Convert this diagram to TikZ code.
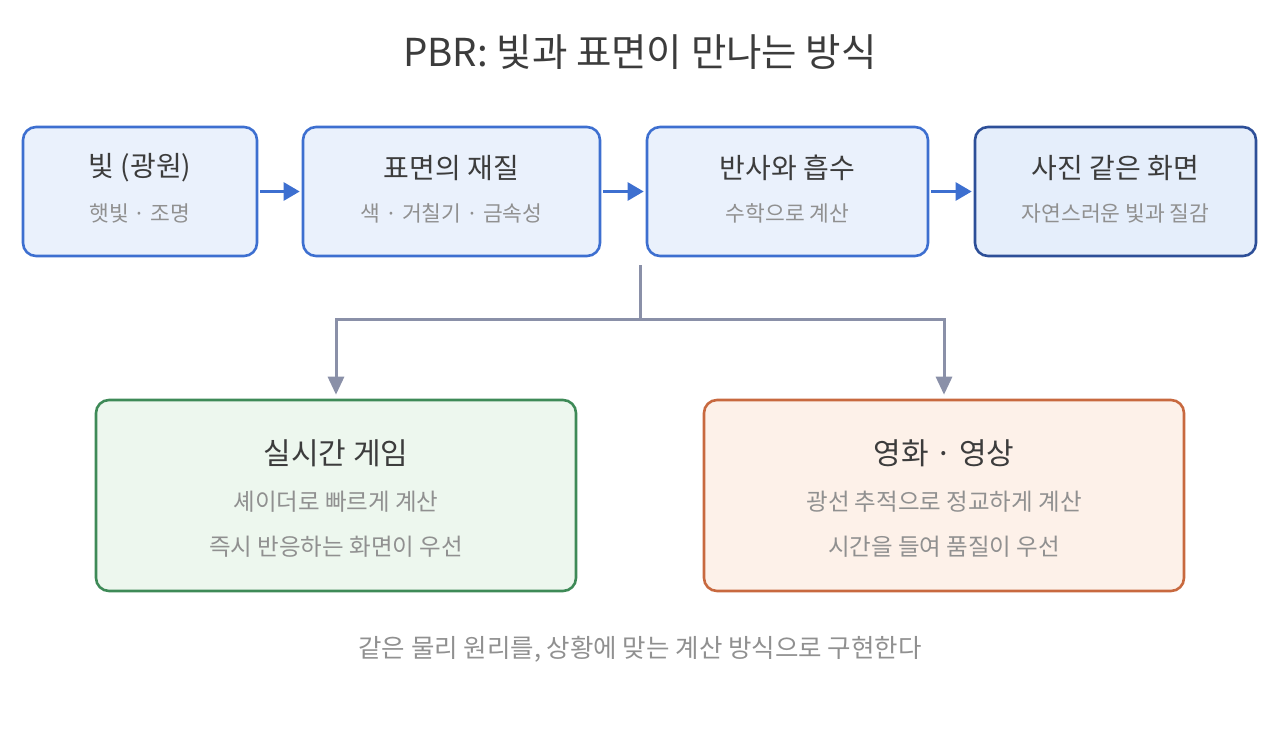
\documentclass[tikz,border=0pt]{standalone}
\usepackage{fontspec}
\setmainfont{Noto Sans CJK KR}
\usetikzlibrary{arrows.meta}

\definecolor{flowblue}{HTML}{3D6FD0}
\definecolor{bluefill}{HTML}{EAF1FC}
\definecolor{deepblue}{HTML}{2D4F98}
\definecolor{deepfill}{HTML}{E5EEFB}
\definecolor{gamegreen}{HTML}{3E8A57}
\definecolor{greenfill}{HTML}{EDF7EE}
\definecolor{filmorange}{HTML}{C8693F}
\definecolor{orangefill}{HTML}{FDF1E9}
\definecolor{forkgrey}{HTML}{8A90A8}
\definecolor{headtext}{HTML}{3C3C3C}
\definecolor{subtext}{HTML}{909090}

\tikzstyle{box} = [draw, rounded corners=13pt, line width=2.6pt, inner sep=0pt]
\tikzstyle{topbox} = [box, minimum height=129pt]
\tikzstyle{lowbox} = [box, minimum width=480pt, minimum height=191pt]
\tikzstyle{head} = [inner sep=0pt, text=headtext, font=\fontsize{28}{32}\selectfont]
\tikzstyle{sub} = [inner sep=0pt, text=subtext, font=\fontsize{21.5}{25}\selectfont]
\tikzstyle{lowhead} = [inner sep=0pt, text=headtext, font=\fontsize{30}{34}\selectfont]
\tikzstyle{lowsub} = [inner sep=0pt, text=subtext, font=\fontsize{23.5}{27}\selectfont]
\tikzstyle{flow} = [draw=flowblue, line width=2.6pt, -{Triangle[length=16pt,width=18pt]}, shorten <=2pt, shorten >=2pt]
\tikzstyle{branch} = [draw=forkgrey, line width=3pt]

\begin{document}
\begin{tikzpicture}[x=1pt,y=-1pt]
			\useasboundingbox (0,0) rectangle (1280,736);
			\node[inner sep=0pt, text=headtext, font=\fontsize{38.5}{44}\selectfont] (title) at (640,52) {PBR: 빛과 표면이 만나는 방식};
			% top row
			\node[topbox, draw=flowblue, fill=bluefill, minimum width=234pt] (light) at (140,191.5) {};
			\node[topbox, draw=flowblue, fill=bluefill, minimum width=297pt] (surface) at (451.5,191.5) {};
			\node[topbox, draw=flowblue, fill=bluefill, minimum width=281pt] (reflect) at (787.5,191.5) {};
			\node[topbox, draw=deepblue, fill=deepfill, minimum width=281pt] (photo) at (1115.5,191.5) {};
			\node[head] (lighthead) at (140,168) {빛 (광원)};
			\node[sub] (lightsub) at (140,213) {햇빛 · 조명};
			\node[head] (surfacehead) at (451.5,168) {표면의 재질};
			\node[sub] (surfacesub) at (451.5,213) {색 · 거칠기 · 금속성};
			\node[head] (reflecthead) at (787.5,168) {반사와 흡수};
			\node[sub] (reflectsub) at (787.5,213) {수학으로 계산};
			\node[head] (photohead) at (1115.5,168) {사진 같은 화면};
			\node[sub] (photosub) at (1115.5,213) {자연스러운 빛과 질감};
			\draw[flow] (light) -- (surface);
			\draw[flow] (surface) -- (reflect);
			\draw[flow] (reflect) -- (photo);
			% bottom row
			\node[lowbox, draw=gamegreen, fill=greenfill] (game) at (336,495.5) {};
			\node[lowbox, draw=filmorange, fill=orangefill] (film) at (944,495.5) {};
			\node[lowhead] (gamehead) at (336,453) {실시간 게임};
			\node[lowsub] (gameone) at (336,502) {셰이더로 빠르게 계산};
			\node[lowsub] (gametwo) at (336,547) {즉시 반응하는 화면이 우선};
			\node[lowhead] (filmhead) at (944,453) {영화 · 영상};
			\node[lowsub] (filmone) at (944,502) {광선 추적으로 정교하게 계산};
			\node[lowsub] (filmtwo) at (944,547) {시간을 들여 품질이 우선};
			\coordinate (fork) at (640,265);
			\coordinate (join) at (640,319);
			\draw[branch] (fork) -- (join);
			\draw[branch, -{Triangle[length=18pt,width=16pt]}, shorten >=4pt] (join) -| (game.north);
			\draw[branch, -{Triangle[length=18pt,width=16pt]}, shorten >=4pt] (join) -| (film.north);
			\node[inner sep=0pt, text=subtext, font=\fontsize{25.5}{29}\selectfont] (footer) at (640,649) {같은 물리 원리를, 상황에 맞는 계산 방식으로 구현한다};
		\end{tikzpicture}
\end{document}
